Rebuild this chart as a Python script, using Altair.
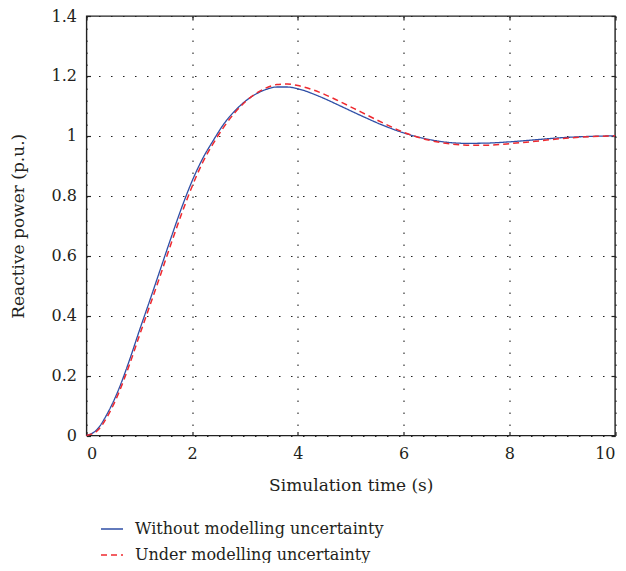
import altair as alt
import pandas as pd

# ---- data ----
t = [0, 0.2, 0.4, 0.6, 0.8, 1.0, 1.2, 1.4, 1.6, 1.8, 2.0, 2.2, 2.4, 2.6, 2.8, 3.0,
     3.2, 3.4, 3.6, 3.8, 4.0, 4.4, 4.8, 5.2, 5.6, 6.0, 6.4, 6.8, 7.2, 7.6, 8.0,
     8.5, 9.0, 9.5, 10]
without_unc = [0, 0.02, 0.075, 0.15, 0.245, 0.35, 0.452, 0.556, 0.66, 0.76, 0.85,
               0.925, 0.985, 1.04, 1.082, 1.115, 1.139, 1.155, 1.163, 1.163, 1.157,
               1.132, 1.1, 1.067, 1.036, 1.01, 0.991, 0.979, 0.975, 0.976, 0.98,
               0.987, 0.994, 0.998, 1.0]
under_unc = [0, 0.015, 0.065, 0.138, 0.23, 0.333, 0.434, 0.536, 0.64, 0.74, 0.832,
             0.912, 0.975, 1.03, 1.076, 1.113, 1.141, 1.16, 1.171, 1.173, 1.168,
             1.146, 1.114, 1.079, 1.044, 1.012, 0.989, 0.975, 0.969, 0.969, 0.974,
             0.982, 0.991, 0.997, 1.0]
series_names = ["Without modelling uncertainty", "Under modelling uncertainty"]
x_ticks = [0, 2, 4, 6, 8, 10]
y_ticks = [0, 0.2, 0.4, 0.6, 0.8, 1.0, 1.2, 1.4]

rows = []
for name, vals in zip(series_names, [without_unc, under_unc]):
    for ti, vi in zip(t, vals):
        rows.append({"t": ti, "v": vi, "series": name})
df = pd.DataFrame(rows)

FONT = "DejaVu Serif"
BLUE = "#2f4fa6"
RED = "#ee2a30"
TXT = "#231f20"

leg = alt.Legend(title=None, orient="none", legendX=13.5, legendY=501,
                 symbolType="stroke", symbolSize=484, symbolStrokeWidth=1.3,
                 labelFont=FONT, labelFontSize=16, labelColor=TXT, labelLimit=0,
                 labelOffset=11, rowPadding=6, padding=0, direction="vertical")

xs = alt.Scale(domain=[0, 10], nice=False)
ys = alt.Scale(domain=[0, 1.4], nice=False)

color = alt.Color("series:N", scale=alt.Scale(domain=series_names, range=[BLUE, RED]), legend=leg)
dash = alt.StrokeDash("series:N", scale=alt.Scale(domain=series_names, range=[[1, 0], [6, 4]]), legend=leg)

x_main = alt.X("t:Q", scale=xs, axis=alt.Axis(orient="bottom", values=x_ticks, title="Simulation time (s)",
                                              offset=-4, tickSize=4, labelPadding=10, titlePadding=16,
                                              grid=True, domain=False))
y_main = alt.Y("v:Q", scale=ys, axis=alt.Axis(orient="left", values=y_ticks, format="~g",
                                              title="Reactive power (p.u.)", offset=-4, tickSize=4,
                                              labelPadding=10, titlePadding=24, grid=True, domain=False))

base = alt.Chart(df)
blue_line = base.transform_filter(alt.datum.series == series_names[0]).mark_line(
    interpolate="monotone", strokeWidth=1.3).encode(x=x_main, y=y_main, color=color, strokeDash=dash)
red_line = base.transform_filter(alt.datum.series == series_names[1]).mark_line(
    interpolate="monotone", strokeWidth=1.5).encode(x=x_main, y=y_main, color=color, strokeDash=dash)

frame = base.mark_line(opacity=0).encode(
    x=alt.X("t:Q", scale=xs, axis=alt.Axis(orient="top", values=x_ticks, labels=False, title=None,
                                           offset=-4, tickSize=4, grid=False, domain=False)),
    y=alt.Y("v:Q", scale=ys, axis=alt.Axis(orient="right", values=y_ticks, labels=False, title=None,
                                           offset=-4, tickSize=4, grid=False, domain=False)),
    detail="series:N",
)

main = alt.layer(blue_line, red_line)
chart = alt.layer(main, frame).resolve_axis(x="independent", y="independent").properties(
    width=528.5, height=419.5,
    padding={"left": 78.5, "top": 8, "right": 3, "bottom": 127.5},
    autosize=alt.AutoSizeParams(type="none"),
).configure_view(stroke="#222", strokeWidth=1.4).configure_axis(
    labelFont=FONT, labelFontSize=16, labelColor=TXT,
    titleFont=FONT, titleFontSize=17, titleFontWeight="normal", titleColor=TXT,
    tickColor="#222", tickWidth=1.2,
    gridColor="#222", gridDash=[1.5, 10.5], gridOpacity=1, gridWidth=1.1,
)

chart.save("out.html", embed_options={"renderer": "svg", "actions": False})
